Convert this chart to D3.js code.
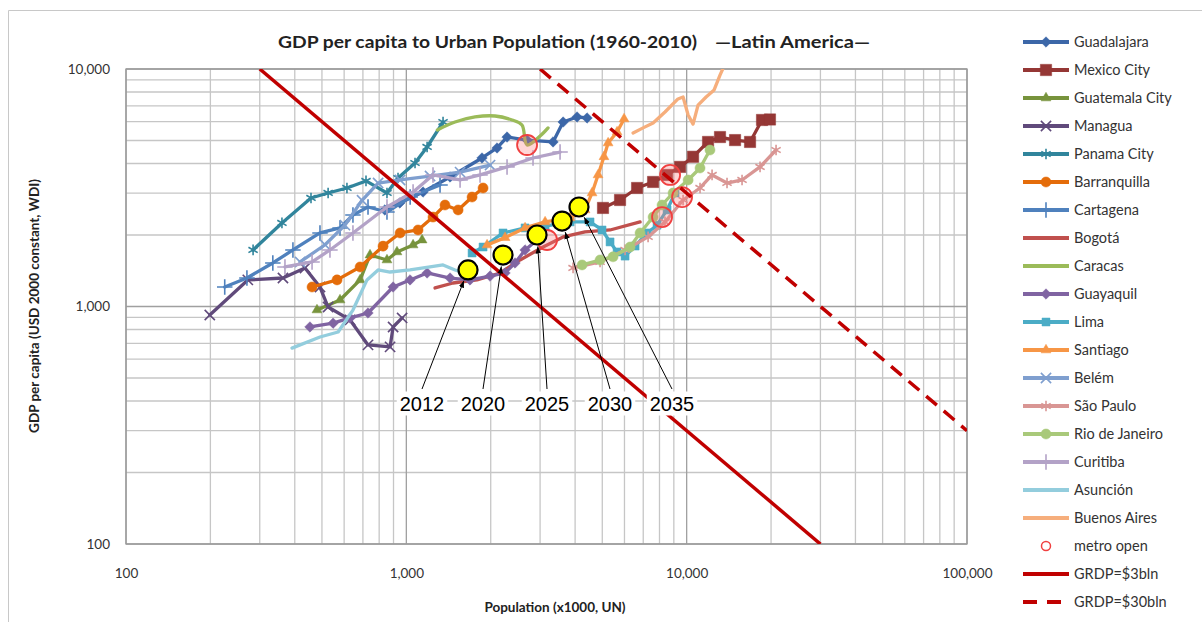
<!DOCTYPE html>
<html>
<head>
<meta charset="utf-8">
<script src="https://cdn.jsdelivr.net/npm/d3@7"></script>
<style>
  body { margin: 0; background: #fff; }
  text { font-family: Lato, "Open Sans", "Liberation Sans", sans-serif; }
</style>
</head>
<body>
<svg id="chart" width="1202" height="622"></svg>
<script>
// ---- axis ticks ----
const popTicks = [100, 1000, 10000, 100000];
const popTickLabels = ["100", "1,000", "10,000", "100,000"];
const gdpTicks = [100, 1000, 10000];
const gdpTickLabels = ["100", "1,000", "10,000"];

// ---- city trajectories: [population (x1000), GDP per capita (USD 2000)] ----
const guadalajara = [[838,2550],[948,2730],[1147,3034],[1432,3510],[1862,4220],[2107,4650],[2287,5170],[2696,5020],[3337,4930],[3625,5980],[4064,6280],[4412,6220]];
const mexicoCity = [[5030,2600],[5785,2808],[6655,3155],[7590,3345],[8513,3580],[9474,3870],[10540,4270],[11920,4930],[13150,5170],[14880,5020],[16830,4930],[18570,6100],[19820,6130]];
const guatemalaCity = [[480,967],[580,1065],[684,1294],[742,1647],[853,1570],[926,1697],[1057,1815],[1138,1905]];
const managua = [[199,921],[272,1294],[363,1318],[435,1453],[492,1208],[526,995],[630,878],[730,689],[875,676],[897,820],[966,895]];
const panamaCity = [[284,1730],[360,2248],[457,2864],[526,3006],[614,3155],[718,3378],[853,3006],[934,3475],[1074,4020],[1186,4695],[1352,5980]];
const barranquilla = [[461,1208],[566,1294],[684,1467],[826,1795],[950,2040],[1101,2100],[1245,2380],[1374,2675],[1530,2550],[1716,2890],[1878,3155]];
const cartagena = [[225,1208],[270,1318],[334,1525],[394,1730],[492,2040],[580,2142],[645,2428],[730,2624],[853,2500],[1032,2890],[1319,3250]];
const bogota = [[1266,1197],[1468,1256],[1787,1294],[2160,1384],[2545,1570],[3074,1780],[3625,1963],[4340,2060],[5330,2100],[6820,2270]];
const caracas = [[1291,5540],[1492,5980],[1758,6280],[2073,6340],[2382,6100],[2585,5810],[2696,4786],[3000,5220],[3203,5650]];
const guayaquil = [[453,820],[548,851],[630,895],[730,939],[897,1208],[1031,1294],[1186,1384],[1432,1318],[1687,1294],[1989,1343],[2250,1384],[2442,1525],[2652,1730],[2926,1905]];
const lima = [[1716,1680],[1878,1780],[2213,2040],[2652,2142],[3126,2180],[3838,2270],[4522,2270],[4990,2100],[5330,1870],[5647,1697],[6030,1630],[6546,1797],[7224,2040],[7840,2200],[8513,2550],[9090,3006]];
const santiago = [[1941,1815],[2250,1950],[2652,2142],[3126,2270],[3838,2360],[4340,2550],[4597,3006],[4830,3580],[5070,4270],[5245,4880],[5647,5430],[5980,6160]];
const belem = [[418,1540],[513,1820],[604,2200],[695,2800],[793,3311],[950,3410],[1215,3543],[1555,3680],[1989,3940]];
const saoPaulo = [[3933,1453],[4910,1540],[6030,1730],[7284,1963],[8370,2270],[9710,2808],[11160,3155],[12320,3580],[13930,3311],[15760,3410],[18270,3870],[20840,4560]];
const rioDeJaneiro = [[4236,1496],[4910,1570],[5463,1619],[6284,1780],[6820,2040],[7590,2380],[8170,2675],[8943,3006],[10120,3410],[11160,3830],[12110,4560]];
const curitiba = [[369,1467],[461,1540],[534,1730],[645,2040],[853,2624],[1057,3034],[1245,3580],[1555,3410],[1832,3580],[2287,3870],[2831,4220],[3535,4470]];
const asuncion = [[391,668],[492,744],[571,781],[645,966],[724,1294],[793,1425],[875,1397],[1031,1425],[1215,1467],[1352,1496],[1492,1425],[1687,1362]];
const buenosAires = [[6440,5380],[6990,5650],[7590,5920],[8370,6590],[9310,7480],[9710,7620],[10120,6400],[10540,5860],[10980,7050],[11730,7620],[12530,8160],[13150,9430],[13600,10300]];

const cityNames = ["Guadalajara","Mexico City","Guatemala City","Managua","Panama City","Barranquilla","Cartagena","Bogotá","Caracas","Guayaquil","Lima","Santiago","Belém","São Paulo","Rio de Janeiro","Curitiba","Asunción","Buenos Aires"];
const cityData = [guadalajara, mexicoCity, guatemalaCity, managua, panamaCity, barranquilla, cartagena, bogota, caracas, guayaquil, lima, santiago, belem, saoPaulo, rioDeJaneiro, curitiba, asuncion, buenosAires];
const cityColors = ["#3C67A8","#953735","#77933C","#604A7B","#31859C","#E46C0A","#4F81BD","#C0504D","#9BBB59","#8064A2","#4BACC6","#F79646","#7F9FCF","#D99694","#A9C97A","#B3A2C7","#93CDDD","#F6AE7C"];
const cityMarkers = ["diamond","square","triangle","times","asterisk","circle","plus",null,null,"diamond","square","triangle","times","asterisk","circle","plus",null,null];

// metro openings
const metroPoints = [[2696,4786],[3177,1905],[8727,3580],[9630,2890],[8170,2380]];

// constant regional GDP lines
const grdp3bln = [[300,10000],[30000,100]];
const grdp30bln = [[3000,10000],[100000,300]];

// projected path
const projYears = ["2012","2020","2025","2030","2035"];
const projPop = [1660,2213,2926,3594,4130];
const projGdp = [1425,1647,2000,2290,2624];

// ---- layout ----
const svg = d3.select("#chart");
const plot = { left: 126, right: 967, top: 69, bottom: 544 };
const x = d3.scaleLog().domain([100, 100000]).range([plot.left, plot.right]);
const y = d3.scaleLog().domain([100, 10000]).range([plot.bottom, plot.top]);

// chart frame
svg.append("path")
  .attr("d", "M8.5,622 V10.5 H1202")
  .attr("fill", "none").attr("stroke", "#c8c8c8").attr("stroke-width", 1);

// gridlines
const minorPop = [], minorGdp = [];
[100, 1000, 10000].forEach(d => { for (let k = 2; k <= 9; k++) minorPop.push(d * k); });
[100, 1000].forEach(d => { for (let k = 2; k <= 9; k++) minorGdp.push(d * k); });

const grid = svg.append("g");
grid.selectAll(".vmin").data(minorPop).join("line")
  .attr("x1", d => x(d)).attr("x2", d => x(d)).attr("y1", plot.top).attr("y2", plot.bottom)
  .attr("stroke", "#c6c6c6").attr("stroke-width", 1.3);
grid.selectAll(".hmin").data(minorGdp).join("line")
  .attr("y1", d => y(d)).attr("y2", d => y(d)).attr("x1", plot.left).attr("x2", plot.right)
  .attr("stroke", "#c6c6c6").attr("stroke-width", 1.3);
grid.selectAll(".vmaj").data(popTicks).join("line")
  .attr("x1", d => x(d)).attr("x2", d => x(d)).attr("y1", plot.top).attr("y2", plot.bottom)
  .attr("stroke", "#a0a0a0").attr("stroke-width", 1.3);
grid.selectAll(".hmaj").data(gdpTicks).join("line")
  .attr("y1", d => y(d)).attr("y2", d => y(d)).attr("x1", plot.left).attr("x2", plot.right)
  .attr("stroke", "#a0a0a0").attr("stroke-width", 1.3);
svg.append("rect")
  .attr("x", plot.left).attr("y", plot.top)
  .attr("width", plot.right - plot.left).attr("height", plot.bottom - plot.top)
  .attr("fill", "none").attr("stroke", "#9a9a9a").attr("stroke-width", 1.3);

// axes tick labels
const xAxis = d3.axisBottom(x).tickValues(popTicks).tickFormat((d, i) => popTickLabels[i]).tickSize(0).tickPadding(0);
svg.append("g").attr("transform", `translate(0,${plot.bottom + 34})`).call(xAxis)
  .call(g => g.select(".domain").remove())
  .selectAll("text").attr("font-size", 13.5).attr("fill", "#333").attr("dy", 0)
  .style("font-family", "Lato, 'Open Sans', sans-serif");
const yAxis = d3.axisLeft(y).tickValues(gdpTicks).tickFormat((d, i) => gdpTickLabels[i]).tickSize(0).tickPadding(16);
svg.append("g").attr("transform", `translate(${plot.left},0)`).call(yAxis)
  .call(g => g.select(".domain").remove())
  .selectAll("text").attr("font-size", 13.5).attr("fill", "#333")
  .style("font-family", "Lato, 'Open Sans', sans-serif");

// titles
svg.append("text").attr("x", 278).attr("y", 48)
  .attr("font-size", 17).attr("font-weight", "bold").attr("fill", "#222")
  .attr("textLength", 419).attr("lengthAdjust", "spacingAndGlyphs")
  .text("GDP per capita to Urban Population (1960-2010)");
svg.append("text").attr("x", 715).attr("y", 48)
  .attr("font-size", 17).attr("font-weight", "bold").attr("fill", "#222")
  .attr("textLength", 155).attr("lengthAdjust", "spacingAndGlyphs")
  .text("\u2014Latin America\u2014");
svg.append("text").attr("x", 555).attr("y", 612).attr("text-anchor", "middle")
  .attr("font-size", 13.5).attr("font-weight", "bold").attr("fill", "#222")
  .text("Population (x1000, UN)");
svg.append("text").attr("transform", "translate(39,306) rotate(-90)").attr("text-anchor", "middle")
  .attr("font-size", 13.5).attr("font-weight", "bold").attr("fill", "#222")
  .text("GDP per capita (USD 2000 constant, WDI)");

// clip for data
svg.append("clipPath").attr("id", "plotClip").append("rect")
  .attr("x", plot.left).attr("y", plot.top)
  .attr("width", plot.right - plot.left).attr("height", plot.bottom - plot.top);

const symbolTypes = {
  diamond: { type: d3.symbolDiamond2, size: 70, filled: true },
  square: { type: d3.symbolSquare, size: 64, filled: true },
  triangle: { type: d3.symbolTriangle2, size: 70, filled: true },
  circle: { type: d3.symbolCircle, size: 80, filled: true },
  times: { type: d3.symbolTimes, size: 70, filled: false },
  asterisk: { type: d3.symbolAsterisk, size: 80, filled: false },
  plus: { type: d3.symbolPlus, size: 80, filled: false }
};
function markerPath(name, scale) {
  const s = symbolTypes[name];
  return d3.symbol().type(s.type).size(s.size * (scale || 1))();
}
function styleMarker(sel, name, color) {
  const s = symbolTypes[name];
  sel.attr("fill", s.filled ? color : "none")
     .attr("stroke", color)
     .attr("stroke-width", s.filled ? 0.5 : 1.6);
}

const line = d3.line().x(d => x(d[0])).y(d => y(d[1]));
const data = svg.append("g").attr("clip-path", "url(#plotClip)");

cityData.forEach((pts, i) => {
  const g = data.append("g");
  const isCaracas = cityNames[i] === "Caracas";
  g.append("path").datum(pts)
    .attr("d", isCaracas ? line.curve(d3.curveCatmullRom)(pts) : line.curve(d3.curveLinear)(pts))
    .attr("fill", "none").attr("stroke", cityColors[i]).attr("stroke-width", 3.3)
    .attr("stroke-linejoin", "round").attr("stroke-linecap", "round");
  const m = cityMarkers[i];
  if (m) {
    const big = cityNames[i] === "Mexico City" ? 2.0 : 1;
    g.selectAll("path.mk").data(pts).join("path").attr("class", "mk")
      .attr("d", markerPath(m, big))
      .attr("transform", d => `translate(${x(d[0])},${y(d[1])})`)
      .call(styleMarker, m, cityColors[i]);
  }
});
line.curve(d3.curveLinear);

// metro openings
data.selectAll("circle.metro").data(metroPoints).join("circle").attr("class", "metro")
  .attr("cx", d => x(d[0])).attr("cy", d => y(d[1])).attr("r", 10)
  .attr("fill", "rgba(255,120,120,0.3)").attr("stroke", "#F04040").attr("stroke-width", 1.8);

// regional GDP iso-lines
data.append("path").attr("d", line(grdp3bln))
  .attr("stroke", "#C00000").attr("stroke-width", 3.5).attr("fill", "none");
data.append("path").attr("d", line(grdp30bln))
  .attr("stroke", "#C00000").attr("stroke-width", 3.5).attr("fill", "none")
  .attr("stroke-dasharray", "14,9");

// projected path: year labels with arrows
svg.append("defs").append("marker").attr("id", "arrowHead")
  .attr("viewBox", "0 0 10 10").attr("refX", 10).attr("refY", 5)
  .attr("markerWidth", 7).attr("markerHeight", 7).attr("orient", "auto")
  .append("path").attr("d", "M0,1 L10,5 L0,9 Z").attr("fill", "#000");

const labelX = [422, 483, 547, 610, 672];
const labelY = 403;
const projR = 9.5;
const ann = svg.append("g");
projYears.forEach((yr, i) => {
  const t = ann.append("text").attr("x", labelX[i]).attr("y", labelY + 7.5)
    .attr("text-anchor", "middle").attr("font-size", 20).attr("fill", "#000")
    .style("font-family", "'Liberation Sans', Arial, sans-serif").text(yr);
  const bb = t.node().getBBox();
  ann.insert("rect", "text").attr("x", bb.x - 3).attr("y", bb.y - 1)
    .attr("width", bb.width + 6).attr("height", bb.height + 2).attr("fill", "#fff");
});
projYears.forEach((yr, i) => {
  const cx = x(projPop[i]), cy = y(projGdp[i]);
  const sx = labelX[i], sy = labelY - 14;
  const dx = cx - sx, dy = cy - sy, len = Math.hypot(dx, dy);
  const ex = cx - dx / len * (projR + 2), ey = cy - dy / len * (projR + 2);
  ann.append("line").attr("x1", sx).attr("y1", sy).attr("x2", ex).attr("y2", ey)
    .attr("stroke", "#000").attr("stroke-width", 1).attr("marker-end", "url(#arrowHead)");
});
ann.selectAll("circle.proj").data(projPop).join("circle").attr("class", "proj")
  .attr("cx", (d, i) => x(projPop[i])).attr("cy", (d, i) => y(projGdp[i])).attr("r", projR)
  .attr("fill", "#FFFF00").attr("stroke", "#000").attr("stroke-width", 2.2);

// legend
const legendNames = cityNames.concat(["metro open", "GRDP=$3bln", "GRDP=$30bln"]);
const legend = svg.append("g");
legendNames.forEach((name, i) => {
  const ly = 42 + i * 28;
  const g = legend.append("g");
  if (i < cityNames.length) {
    g.append("line").attr("x1", 1023).attr("x2", 1069).attr("y1", ly).attr("y2", ly)
      .attr("stroke", cityColors[i]).attr("stroke-width", 4);
    const m = cityMarkers[i];
    if (m) {
      g.append("path").attr("d", markerPath(m, cityNames[i] === "Mexico City" ? 2.0 : 1))
        .attr("transform", `translate(1046,${ly})`).call(styleMarker, m, cityColors[i]);
    }
  } else if (name === "metro open") {
    g.append("circle").attr("cx", 1046).attr("cy", ly).attr("r", 4.5)
      .attr("fill", "#fff").attr("stroke", "#F04040").attr("stroke-width", 1.5);
  } else {
    g.append("line").attr("x1", 1023).attr("x2", 1069).attr("y1", ly).attr("y2", ly)
      .attr("stroke", "#C00000").attr("stroke-width", 4)
      .attr("stroke-dasharray", name === "GRDP=$30bln" ? "14,10" : null);
  }
  g.append("text").attr("x", 1074).attr("y", ly + 5).attr("font-size", 14.5)
    .attr("fill", "#333").text(name);
});
</script>
</body>
</html>
